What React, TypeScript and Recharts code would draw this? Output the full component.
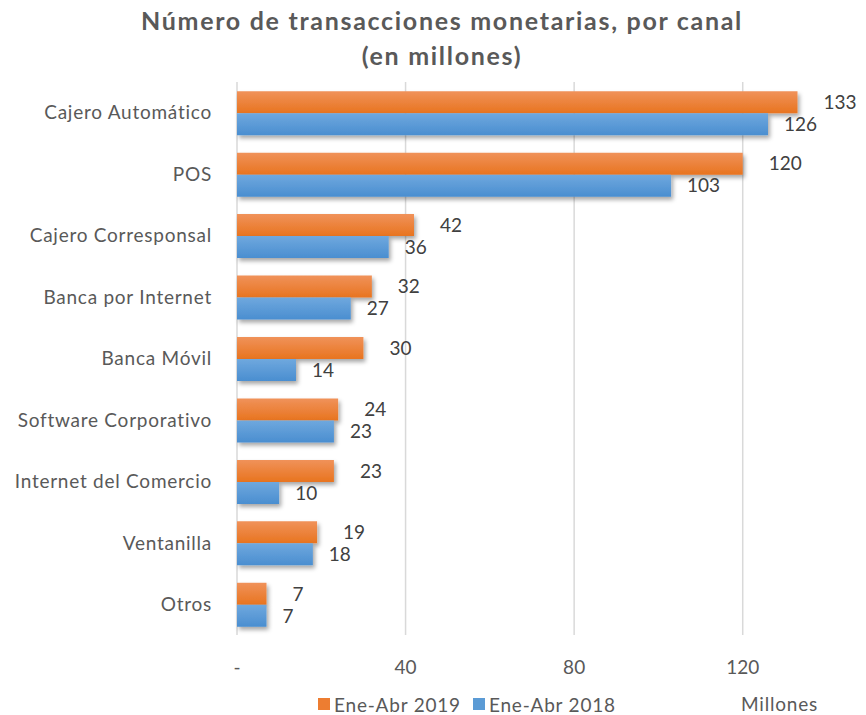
import { Bar, BarChart, CartesianGrid, LabelList, XAxis, YAxis } from "recharts";

const canales = [
  "Cajero Automático",
  "POS",
  "Cajero Corresponsal",
  "Banca por Internet",
  "Banca Móvil",
  "Software Corporativo",
  "Internet del Comercio",
  "Ventanilla",
  "Otros",
];
const ene2019 = [133, 120, 42, 32, 30, 24, 23, 19, 7];
const ene2018 = [126, 103, 36, 27, 14, 23, 10, 18, 7];
const xTicks = [0, 40, 80, 120];
const series = ["Ene-Abr 2019", "Ene-Abr 2018"];

const rows = canales.map((canal, i) => ({ canal, a2019: ene2019[i], a2018: ene2018[i] }));

const font = "Lato, 'Open Sans', sans-serif";
const orange = "#ED7D31";
const blue = "#5B9BD5";

function LegendItem({ color, label }: { color: string; label: string }) {
  return (
    <span style={{ display: "inline-flex", alignItems: "center", marginRight: 12 }}>
      <span style={{ width: 12, height: 12, background: color, display: "inline-block", marginRight: 4 }} />
      {label}
    </span>
  );
}

export default function App() {
  return (
    <div style={{ position: "absolute", left: 0, top: 0, width: 866, height: 715, background: "#fff", fontFamily: font }}>
      <div
        style={{
          position: "absolute",
          top: 3,
          left: 0,
          width: 884,
          textAlign: "center",
          fontSize: 25,
          fontWeight: 700,
          letterSpacing: 1.7,
          color: "#595959",
          lineHeight: "35px",
        }}
      >
        Número de transacciones monetarias, por canal
        <br />
        (en millones)
      </div>
      <BarChart
        width={866}
        height={715}
        data={rows}
        layout="vertical"
        margin={{ top: 82, right: 39, bottom: 50, left: 0 }}
        barCategoryGap="15%"
        barGap={0}
      >
        <defs>
          <linearGradient id="gOrange" x1="0" y1="0" x2="0" y2="1">
            <stop offset="0%" stopColor="#F0925A" />
            <stop offset="100%" stopColor="#E8741F" />
          </linearGradient>
          <linearGradient id="gBlue" x1="0" y1="0" x2="0" y2="1">
            <stop offset="0%" stopColor="#6FA8DE" />
            <stop offset="100%" stopColor="#4A8ED0" />
          </linearGradient>
          <filter id="sombra" x="-10%" y="-30%" width="130%" height="180%">
            <feDropShadow dx="2" dy="3" stdDeviation="2" floodColor="#000" floodOpacity="0.35" />
          </filter>
        </defs>
        <CartesianGrid horizontal={false} verticalValues={xTicks} stroke="#D9D9D9" strokeWidth={1.5} />
        <XAxis
          type="number"
          domain={[0, 140]}
          ticks={xTicks}
          tickFormatter={(v: number) => (v === 0 ? "-" : String(v))}
          axisLine={false}
          tickLine={false}
          tick={{ fill: "#595959", fontSize: 19, fontFamily: font }}
          tickMargin={20}
        />
        <YAxis
          type="category"
          dataKey="canal"
          width={237}
          axisLine={false}
          tickLine={false}
          tick={{ fill: "#595959", fontSize: 19, fontFamily: font, letterSpacing: 0.75 }}
          tickMargin={19}
        />
        <Bar dataKey="a2019" name={series[0]} fill="url(#gOrange)" filter="url(#sombra)" isAnimationActive={false}>
          <LabelList dataKey="a2019" position="right" offset={26} fill="#404040" fontSize={19} fontFamily={font} />
        </Bar>
        <Bar dataKey="a2018" name={series[1]} fill="url(#gBlue)" filter="url(#sombra)" isAnimationActive={false}>
          <LabelList dataKey="a2018" position="right" offset={16} fill="#404040" fontSize={19} fontFamily={font} />
        </Bar>
      </BarChart>
      <div
        style={{
          position: "absolute",
          top: 691,
          left: 318,
          fontSize: 19,
          letterSpacing: 0.8,
          color: "#595959",
          whiteSpace: "nowrap",
        }}
      >
        <LegendItem color={orange} label={series[0]} />
        <LegendItem color={blue} label={series[1]} />
      </div>
      <div style={{ position: "absolute", top: 692, left: 741, fontSize: 19, letterSpacing: 0.8, color: "#595959" }}>
        Millones
      </div>
    </div>
  );
}
